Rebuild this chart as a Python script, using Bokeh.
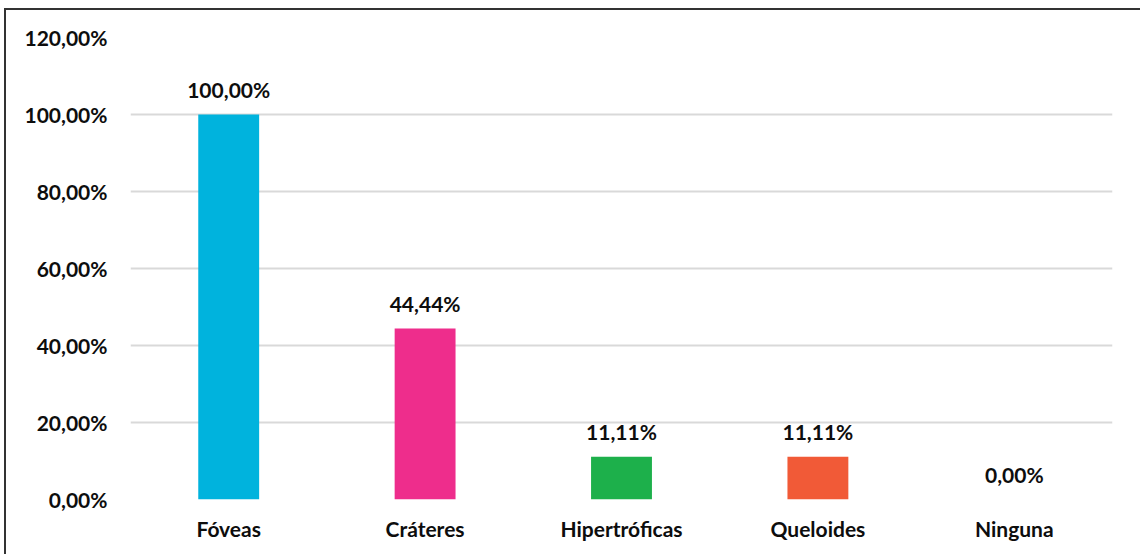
from bokeh.plotting import figure
from bokeh.models import ColumnDataSource, FixedTicker, Range1d, FactorRange
from bokeh.core.properties import value
from bokeh.embed import file_html
from bokeh.resources import INLINE

# Tipos de cicatriz y porcentaje de casos
categorias = ["Fóveas", "Cráteres", "Hipertróficas", "Queloides", "Ninguna"]
porcentajes = [100.00, 44.44, 11.11, 11.11, 0.00]
colores = ["#00B3DD", "#EE2D8C", "#1DB04B", "#F15A37", "#A5A5A5"]
ticks_y = [0, 20, 40, 60, 80, 100, 120]

FONT = "Lato"
FS = "21px"

def fmt(v):
    return f"{v:.2f}".replace(".", ",") + "%"

src = ColumnDataSource(dict(
    cat=categorias,
    val=porcentajes,
    color=colores,
    label=[fmt(v) for v in porcentajes],
))

p = figure(
    x_range=FactorRange(*categorias, range_padding=0),
    y_range=Range1d(0, 120),
    width=1134, height=545,
    output_backend="svg", toolbar_location=None,
    min_border_left=124, min_border_right=28,
    min_border_top=27, min_border_bottom=56,
    margin=(10, 0, 0, 6),
    styles={"outline": "2px solid #333333"},
)
p.outline_line_color = None
p.background_fill_color = "white"
p.border_fill_color = "white"

p.vbar(x="cat", top="val", width=0.31, fill_color="color", line_color=None, source=src)

p.text(x="cat", y="val", text="label", source=src,
       text_align="center", text_baseline="middle", y_offset=-25,
       text_font=value(FONT), text_font_style="bold",
       text_font_size=FS, text_color="#0d0d0d")

# y axis
p.yaxis.ticker = FixedTicker(ticks=ticks_y)
p.yaxis.major_label_overrides = {t: fmt(t) for t in ticks_y}
p.yaxis.axis_line_color = None
p.yaxis.major_tick_line_color = None
p.yaxis.minor_tick_line_color = None
p.yaxis.major_tick_in = 0
p.yaxis.major_tick_out = 0
p.yaxis.major_label_standoff = 23
p.yaxis.major_label_text_font = FONT
p.yaxis.major_label_text_font_style = "bold"
p.yaxis.major_label_text_font_size = FS
p.yaxis.major_label_text_color = "#0d0d0d"

# x axis
p.xaxis.axis_line_color = None
p.xaxis.major_tick_line_color = None
p.xaxis.major_tick_in = 0
p.xaxis.major_tick_out = 0
p.xaxis.major_label_standoff = 16
p.xaxis.major_label_text_font = FONT
p.xaxis.major_label_text_font_style = "bold"
p.xaxis.major_label_text_font_size = FS
p.xaxis.major_label_text_color = "#0d0d0d"

p.xgrid.grid_line_color = None
p.ygrid.grid_line_color = "#D9D9D9"
p.ygrid.grid_line_width = 2

open("out.html", "w").write(file_html(p, INLINE))
